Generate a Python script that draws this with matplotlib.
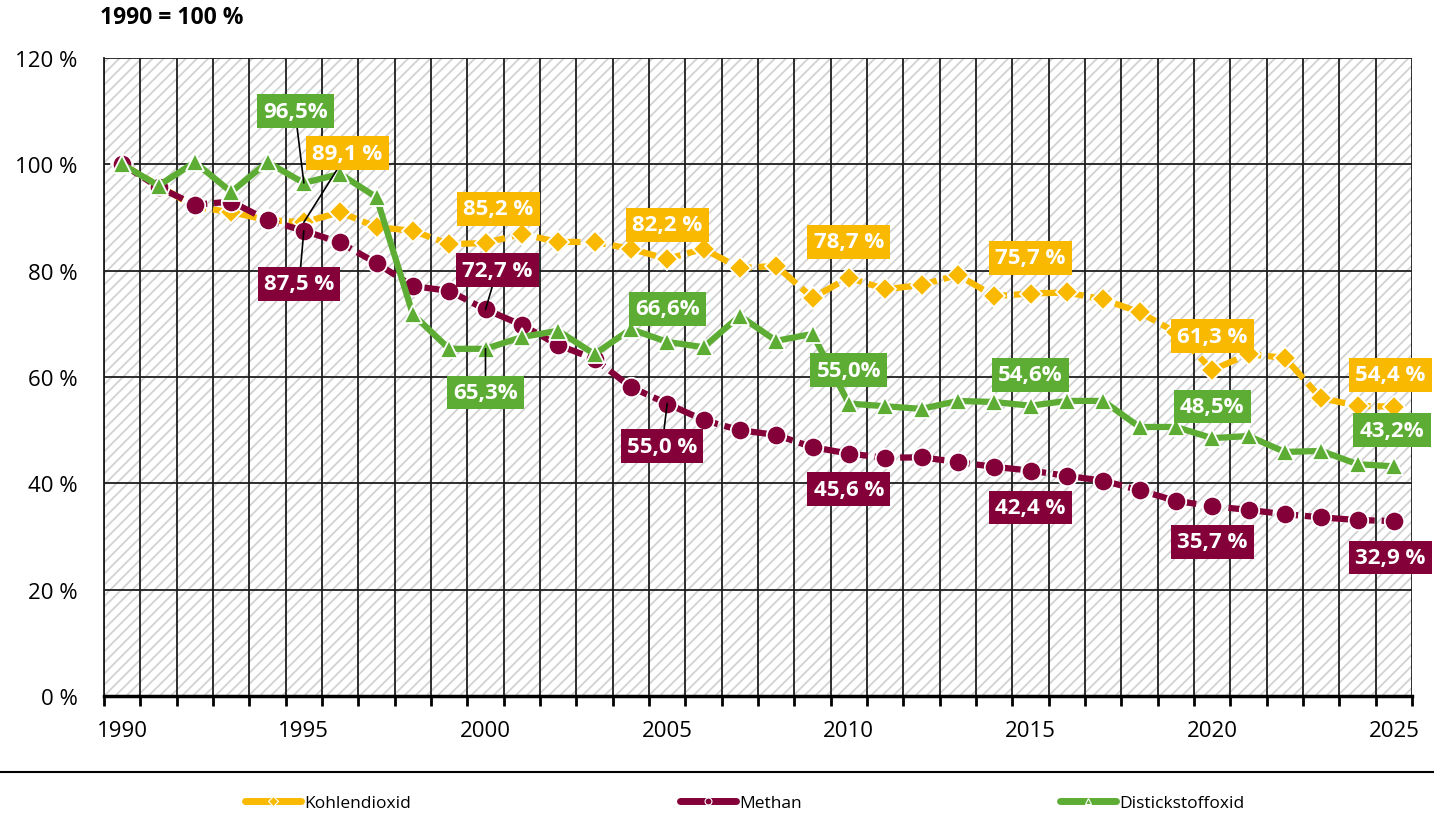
import matplotlib.pyplot as plt
from matplotlib.lines import Line2D
from matplotlib.patches import Rectangle

plt.rcParams['font.family'] = ['Open Sans', 'DejaVu Sans']
plt.rcParams['hatch.linewidth'] = 1.3
plt.rcParams['hatch.color'] = '#d2d2d2'

# data (1990 = 100 %)
years = list(range(1990, 2026))
co2 = [100.0, 96.0, 92.0, 91.0, 89.5, 89.1, 91.0, 88.2, 87.5, 85.0,
       85.2, 86.9, 85.4, 85.4, 84.1, 82.2, 84.1, 80.5, 80.9, 74.9,
       78.7, 76.5, 77.3, 79.2, 75.2, 75.7, 75.9, 74.6, 72.2, 68.4,
       61.3, 64.3, 63.6, 56.0, 54.6, 54.4]
ch4 = [100.0, 95.7, 92.4, 93.0, 89.5, 87.5, 85.3, 81.4, 77.1, 76.2,
       72.7, 69.8, 66.0, 63.4, 58.1, 55.0, 51.9, 50.0, 49.1, 46.8,
       45.6, 44.8, 44.9, 44.0, 43.1, 42.4, 41.4, 40.5, 38.7, 36.7,
       35.7, 35.0, 34.2, 33.6, 33.1, 32.9]
n2o = [100.0, 96.0, 100.4, 94.8, 100.4, 96.5, 98.2, 93.8, 71.8, 65.3,
       65.3, 67.5, 68.7, 64.3, 69.0, 66.6, 65.6, 71.5, 66.8, 68.1,
       55.0, 54.5, 54.0, 55.5, 55.3, 54.6, 55.5, 55.5, 50.6, 50.6,
       48.5, 48.9, 45.9, 46.1, 43.6, 43.2]
names = ['Kohlendioxid', 'Methan', 'Distickstoffoxid']
colors = ['#f9b900', '#830038', '#5dad35']

# labelled points: series index, year, text
label_series = [2, 0, 1, 0, 1, 2, 0, 2, 1, 0, 2, 1, 0, 2, 1, 0, 2, 1, 0, 2, 1]
label_years = [1995, 1995, 1995, 2000, 2000, 2000, 2005, 2005, 2005,
               2010, 2010, 2010, 2015, 2015, 2015, 2020, 2020, 2020,
               2025, 2025, 2025]
label_texts = ['96,5%', '89,1 %', '87,5 %', '85,2 %', '72,7 %', '65,3%',
               '82,2 %', '66,6%', '55,0 %', '78,7 %', '55,0%', '45,6 %',
               '75,7 %', '54,6%', '42,4 %', '61,3 %', '48,5%', '35,7 %',
               '54,4 %', '43,2%', '32,9 %']
# label box positions (x, y) in data units
label_pos = [(1994.76, 110.0), (1996.2, 102.1), (1994.87, 77.5),
             (2000.35, 91.6), (2000.32, 80.1), (2000.0, 57.1),
             (2005.0, 88.6), (2005.0, 72.8), (2004.86, 47.0),
             (2010.0, 85.4), (2010.0, 61.3), (2010.0, 38.9),
             (2015.0, 82.4), (2015.0, 60.4), (2015.0, 35.5),
             (2020.0, 67.7), (2020.0, 54.5), (2020.0, 29.0),
             (2024.9, 60.4), (2024.95, 50.0), (2024.9, 26.1)]
leader = [True, True, True, False, True, True, False, False, True,
          False, False, False, False, False, False, False, False, False,
          False, False, False]

fig = plt.figure(figsize=(14.34, 8.2), dpi=100)
ax = fig.add_axes([104 / 1434, 1 - 697 / 820, 1308 / 1434, 638 / 820])

ax.set_xlim(1989.5, 2025.5)
ax.set_ylim(0, 120)

ax.add_patch(Rectangle((1989.5, 0), 36, 120, facecolor='white',
                       hatch='///', edgecolor='#d2d2d2', lw=0, zorder=0))

series = [co2, ch4, n2o]
styles = [dict(marker='D', ms=11, dashes=(3, 1.1)),
          dict(marker='o', ms=14, dashes=(3, 1.1)),
          dict(marker='^', ms=13, ls='-')]
for vals, c, st, nm in zip(series, colors, styles, names):
    ax.plot(years, vals, color=c, lw=4.5, mec='white', mew=1.3,
            mfc=c, label=nm, zorder=3, **st)

for s, yr, txt, pos, ld in zip(label_series, label_years, label_texts,
                               label_pos, leader):
    yv = series[s][years.index(yr)]
    ax.annotate(txt, xy=(yr, yv), xytext=pos, ha='center', va='center',
                color='white', fontsize=16, fontweight='bold', zorder=6,
                bbox=dict(boxstyle='square,pad=0.28', fc=colors[s], ec='none'),
                arrowprops=dict(arrowstyle='-', color='black', lw=1.2,
                                shrinkA=0, shrinkB=0) if ld else None)

# grid
ax.set_xticks([y + 0.5 for y in range(1989, 2026)])
ax.set_xticklabels([])
ax.set_xticks(list(range(1990, 2026, 5)), minor=True)
ax.set_xticklabels([str(y) for y in range(1990, 2026, 5)], minor=True,
                   fontsize=16)
ax.tick_params(axis='x', which='major', length=7, width=2, direction='out')
ax.tick_params(axis='x', which='minor', length=0, pad=17)
ax.set_yticks(range(0, 121, 20))
ax.set_yticklabels([f'{v} %' for v in range(0, 121, 20)], fontsize=16)
ax.tick_params(axis='y', length=0, pad=19)
ax.grid(True, which='major', color='#1e1e1e', lw=1.3, zorder=1)
ax.set_axisbelow(True)
for side in ['top', 'right']:
    ax.spines[side].set_visible(False)
ax.spines['left'].set_color('#1e1e1e')
ax.spines['left'].set_linewidth(1.3)
ax.spines['bottom'].set_linewidth(2.5)

fig.text(100 / 1434, 1 - 18 / 820, '1990 = 100 %', fontsize=16.5,
         fontweight='bold', va='center', ha='left')

# separator line and legend
fig.add_artist(Line2D([0, 1], [1 - 773 / 820] * 2, color='black', lw=1.5))
legend_x = [245, 680, 1060]
for nm, c, st, lx in zip(names, colors, styles, legend_x):
    h = Line2D([0], [0], color=c, lw=5, marker=st['marker'], ms=5,
               mec='white', mew=0.8, mfc=c, solid_capstyle='round')
    fig.legend([h], [nm], loc='center left',
               bbox_to_anchor=(lx / 1434, 1 - 804 / 820), frameon=False,
               handlelength=3.2, handletextpad=0.2, borderpad=0,
               borderaxespad=0, prop=dict(size=12.5))

fig.savefig('out.png', dpi=100)
